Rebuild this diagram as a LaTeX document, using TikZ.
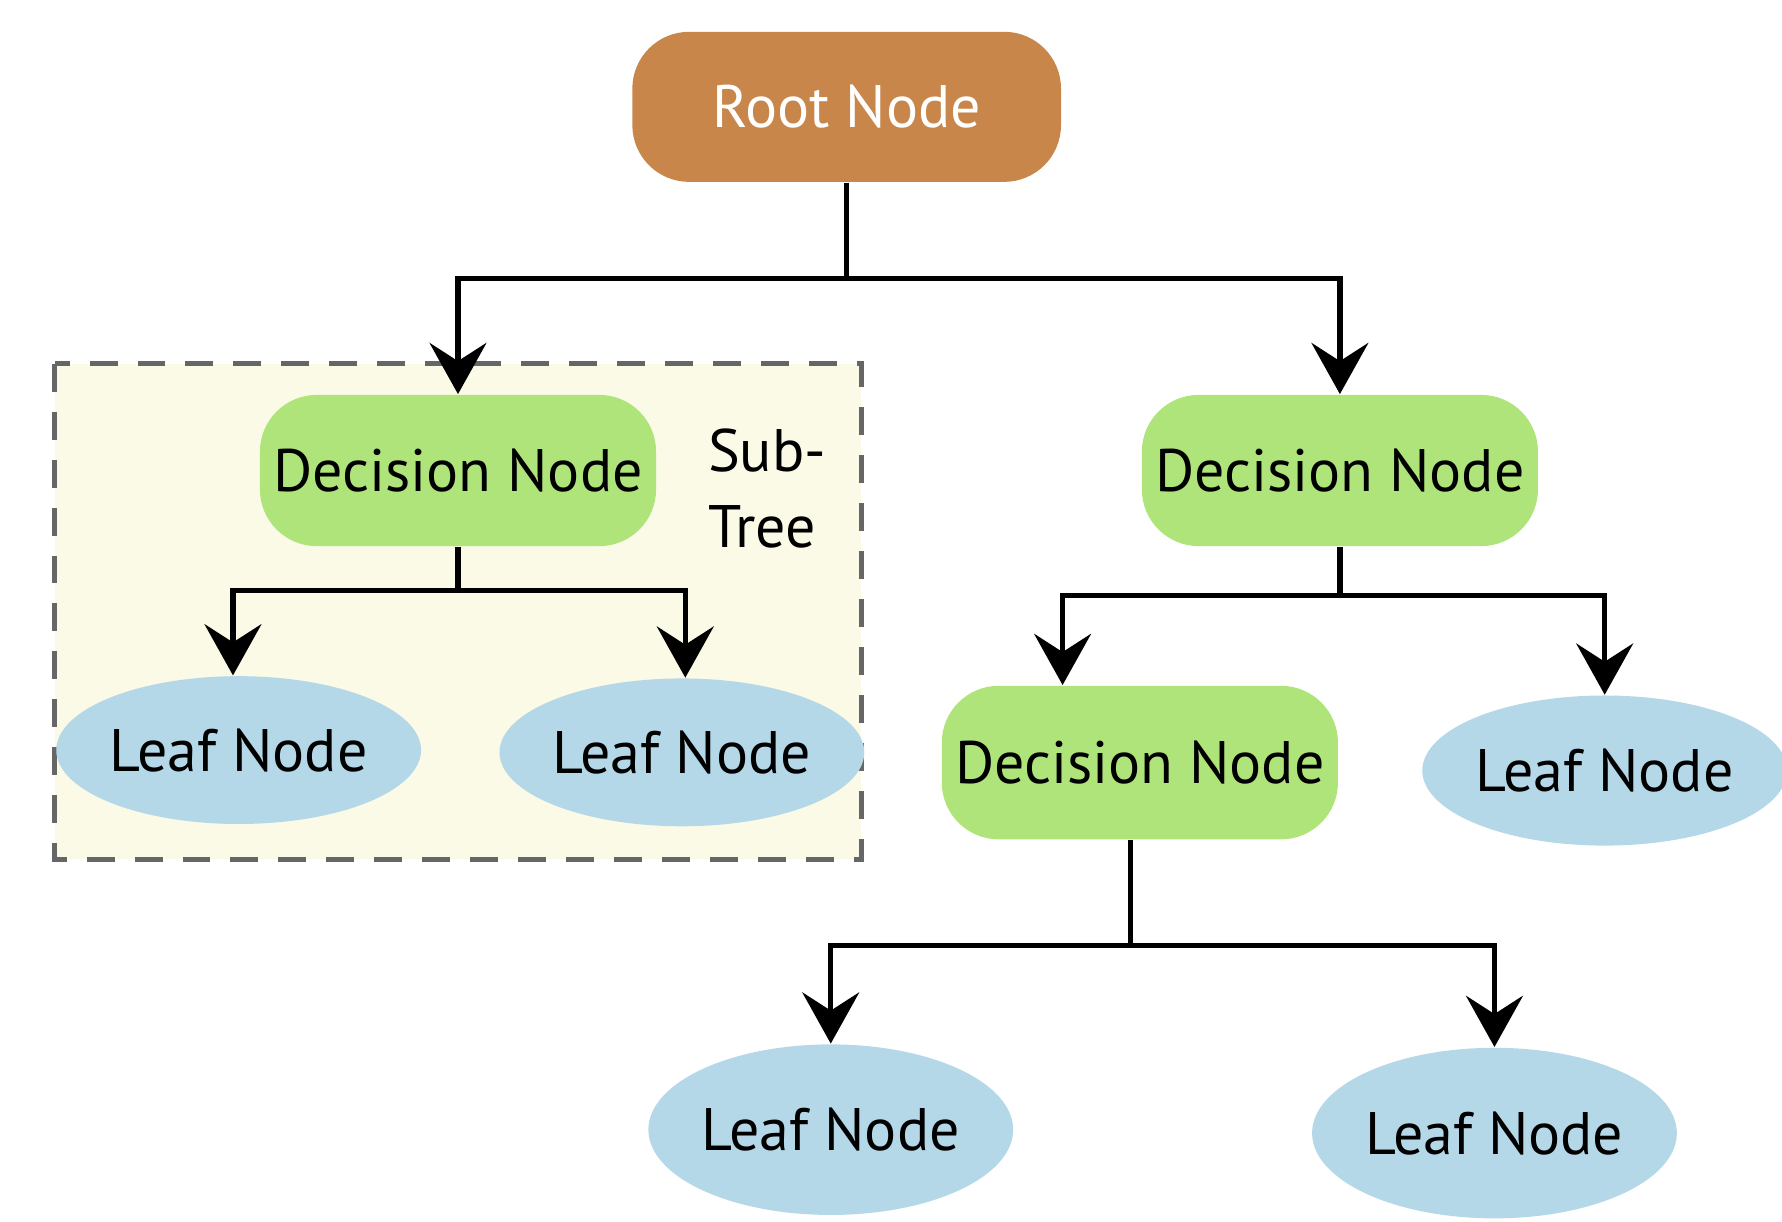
\documentclass[tikz,border=0pt]{standalone}
\usepackage{fontspec}
\setmainfont{PT Sans}
\usetikzlibrary{arrows.meta,shapes.geometric,calc}
\definecolor{rootc}{HTML}{C9864B}
\definecolor{decc}{HTML}{AEE47A}
\definecolor{leafc}{HTML}{B4D8E8}
\definecolor{subc}{HTML}{FAFAE6}
\tikzset{
  root/.style={rectangle,rounded corners=5mm,fill=rootc,text=white,
    minimum width=3.77cm,minimum height=1.32cm,font=\fontsize{15}{18}\selectfont},
  decision/.style={rectangle,rounded corners=5mm,fill=decc,
    minimum width=3.3cm,minimum height=1.33cm,font=\fontsize{15}{18}\selectfont},
  leaf/.style={ellipse,fill=leafc,minimum width=2.66cm,minimum height=1.3cm,
    inner sep=0pt,font=\fontsize{15}{18}\selectfont},
  arr/.style={-{Stealth[length=4.5mm,width=5mm,inset=1.6mm]},line width=1.3pt}
}
\begin{document}
\begin{tikzpicture}[x=0.01cm,y=-0.01cm]
  \useasboundingbox (0,0) rectangle (1568,1075);

  % sub-tree box
  \draw[fill=subc,draw=gray!80!black,dashed,line width=1.3pt,dash pattern=on 7pt off 5pt]
    (48,320) rectangle (758,756);
  \node[align=left,font=\fontsize{15}{19}\selectfont] (sub) at (675,430) {Sub-\\Tree};

  \node[root] (root) at (745,94) {Root Node};
  \node[decision] (dl) at (403,414) {Decision Node};
  \node[decision] (dr) at (1179,414) {Decision Node};
  \node[decision,minimum width=3.26cm,minimum height=1.35cm] (dm) at (1003,671) {Decision Node};

  \node[leaf] (l1) at (210,660) {Leaf Node};
  \node[leaf] (l2) at (600,662) {Leaf Node};
  \node[leaf,minimum width=2.94cm,minimum height=1.32cm] (l3) at (1412,678) {Leaf Node};
  \node[leaf,minimum height=1.5cm] (l4) at (731,994) {Leaf Node};
  \node[leaf,minimum height=1.5cm] (l5) at (1315,997) {Leaf Node};

  % connectors
  \draw[line width=1.3pt] (root.south) -- ++(0,84) coordinate (jr);
  \draw[arr] (jr) -| (dl.north);
  \draw[arr] (jr) -| (dr.north);

  \draw[line width=1.3pt] (dl.south) -- ++(0,38) coordinate (jl);
  \draw[arr] (jl) -| ($(l1.north)+(-5,0)$);
  \draw[arr] (jl) -| ($(l2.north)+(3,0)$);

  \draw[line width=1.3pt] (dr.south) -- ++(0,43) coordinate (jd);
  \draw[arr] (jd) -| ($(dm.north)+(-68,0)$);
  \draw[arr] (jd) -| (l3.north);

  \draw[line width=1.3pt] ($(dm.south)+(-8,0)$) -- ++(0,93) coordinate (jm);
  \draw[arr] (jm) -| (l4.north);
  \draw[arr] (jm) -| (l5.north);
\end{tikzpicture}
\end{document}
